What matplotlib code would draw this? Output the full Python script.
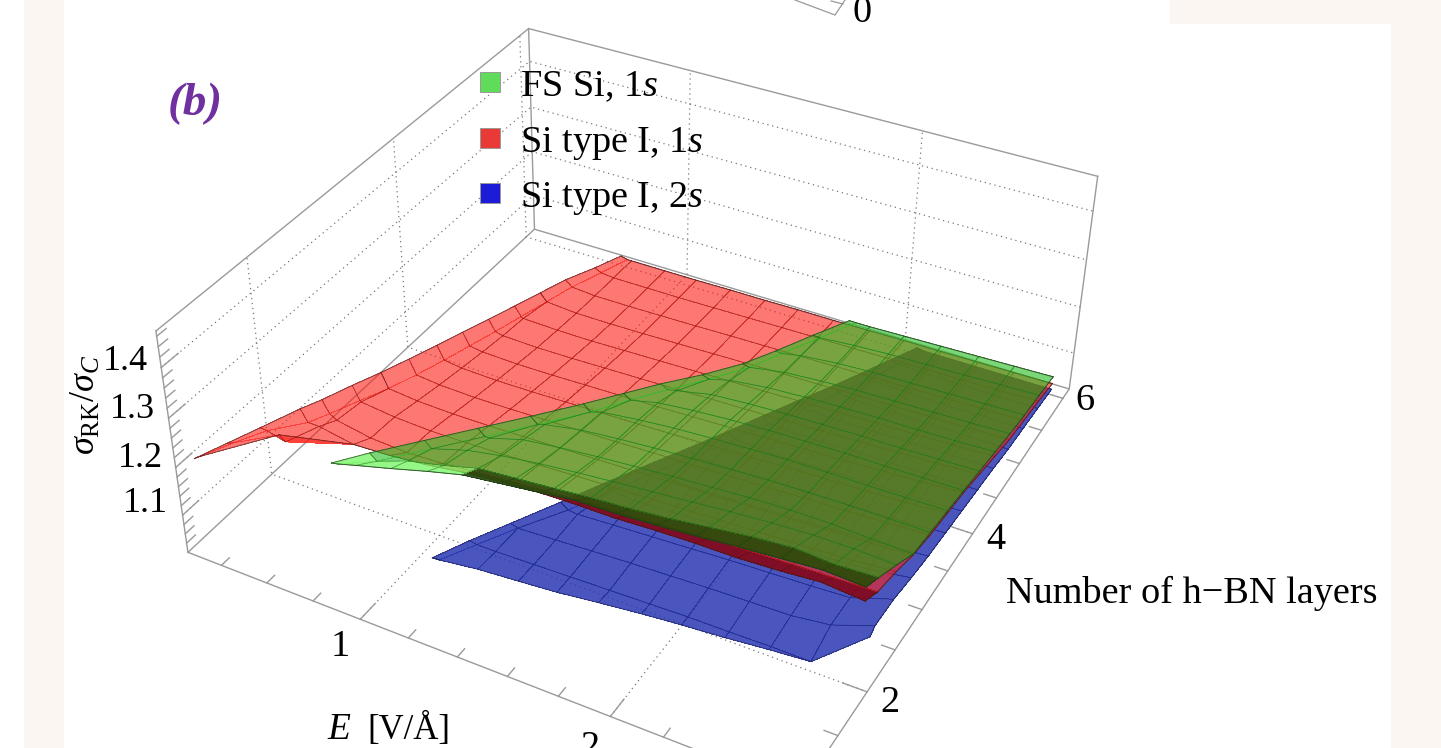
#Panel (b): sigma_RK/sigma_C surfaces against field and number of h-BN layers
import numpy as np
import matplotlib
matplotlib.use("Agg")
import matplotlib.pyplot as plt
from matplotlib.patches import Rectangle
from matplotlib.path import Path
from matplotlib.transforms import IdentityTransform
from mpl_toolkits.mplot3d.art3d import Poly3DCollection

plt.rcParams['font.family'] = ['Liberation Serif', 'DejaVu Serif']
plt.rcParams['mathtext.fontset'] = 'custom'
plt.rcParams['mathtext.rm'] = 'Liberation Serif'
plt.rcParams['mathtext.it'] = 'Liberation Serif:italic'
plt.rcParams['mathtext.bf'] = 'Liberation Serif:bold'

#Axis ranges and ticks
E_lim = [0.25, 2.7]
N_lim = [0.9, 6.15]
Z_lim = [1.02, 1.47]
E_minor = [0.4, 0.6, 0.8, 1.0, 1.2, 1.4, 1.6, 1.8, 2.0, 2.2, 2.4, 2.6]
E_major = [1, 2]
N_minor = [1, 1.5, 2, 2.5, 3, 3.5, 4, 4.5, 5, 5.5, 6]
N_major = [2, 4, 6]
Z_minor = [1.04, 1.06, 1.08, 1.1, 1.12, 1.14, 1.16, 1.18, 1.2, 1.22, 1.24, 1.26, 1.28, 1.3, 1.32, 1.34, 1.36, 1.38, 1.4, 1.42, 1.44, 1.46]
Z_major = [1.1, 1.2, 1.3, 1.4]

#Field values shared by the three tables
E_grid = [0.30, 0.46, 0.61, 0.77, 0.93, 1.08, 1.24, 1.40, 1.55, 1.71, 1.87, 2.02, 2.18, 2.34, 2.49, 2.65]

#Si type I, 1s
red_N = [1, 1.33, 1.67, 2.1, 2.33, 2.67, 3, 3.33, 3.67, 4, 4.33, 4.67, 5, 5.33, 5.67, 6]
red_start = [0.30, 0.324, 0.35, 0.38, 0.40, 0.425, 0.45, 0.475, 0.50, 0.52, 0.545, 0.57, 0.60, 0.63, 0.68, 0.72]
red_ridge = [1.212, 1.199, 1.186, 1.169, 1.159, 1.146, 1.132, 1.120, 1.108, 1.096, 1.085, 1.074, 1.066, 1.058, 1.050, 1.042]
red_front_N = [1.0, 1.6, 2.1, 2.1, 2.1, 2.1, 2.1, 2.1, 2.1, 2.1, 2.1, 2.1, 2.1, 2.1, 2.1, 2.1]
red_Z = [
    [1.222, 1.200, 1.132, 1.136, 1.144, 1.155, 1.163, 1.169, 1.171, 1.171, 1.175, 1.177, 1.177, 1.181, 1.187, 1.180],
    [1.205, 1.200, 1.132, 1.136, 1.144, 1.155, 1.163, 1.169, 1.171, 1.171, 1.175, 1.177, 1.177, 1.181, 1.187, 1.180],
    [1.185, 1.175, 1.132, 1.136, 1.144, 1.155, 1.163, 1.169, 1.171, 1.171, 1.175, 1.177, 1.177, 1.181, 1.187, 1.180],
    [1.145, 1.145, 1.132, 1.136, 1.144, 1.155, 1.163, 1.169, 1.171, 1.171, 1.175, 1.177, 1.177, 1.181, 1.187, 1.180],
    [1.134, 1.125, 1.112, 1.108, 1.112, 1.118, 1.125, 1.131, 1.138, 1.142, 1.146, 1.150, 1.153, 1.156, 1.158, 1.160],
    [1.118, 1.116, 1.108, 1.105, 1.106, 1.108, 1.112, 1.116, 1.119, 1.122, 1.125, 1.128, 1.131, 1.134, 1.138, 1.145],
    [1.102, 1.102, 1.096, 1.094, 1.095, 1.097, 1.099, 1.102, 1.104, 1.107, 1.109, 1.112, 1.115, 1.118, 1.121, 1.126],
    [1.090, 1.090, 1.085, 1.083, 1.084, 1.086, 1.088, 1.090, 1.093, 1.095, 1.098, 1.101, 1.104, 1.107, 1.110, 1.115],
    [1.080, 1.080, 1.075, 1.073, 1.074, 1.076, 1.078, 1.080, 1.083, 1.086, 1.089, 1.092, 1.095, 1.098, 1.101, 1.107],
    [1.070, 1.070, 1.066, 1.064, 1.065, 1.067, 1.069, 1.071, 1.074, 1.077, 1.080, 1.083, 1.086, 1.090, 1.094, 1.100],
    [1.062, 1.062, 1.058, 1.056, 1.057, 1.059, 1.061, 1.063, 1.066, 1.068, 1.071, 1.074, 1.077, 1.080, 1.084, 1.088],
    [1.055, 1.055, 1.052, 1.050, 1.050, 1.052, 1.054, 1.056, 1.058, 1.060, 1.063, 1.065, 1.068, 1.070, 1.073, 1.076],
    [1.050, 1.050, 1.050, 1.045, 1.045, 1.046, 1.048, 1.050, 1.052, 1.054, 1.055, 1.057, 1.059, 1.060, 1.062, 1.064],
    [1.046, 1.046, 1.046, 1.042, 1.042, 1.043, 1.044, 1.046, 1.047, 1.048, 1.050, 1.051, 1.052, 1.054, 1.056, 1.058],
    [1.043, 1.043, 1.043, 1.040, 1.040, 1.040, 1.041, 1.042, 1.043, 1.044, 1.045, 1.046, 1.047, 1.048, 1.050, 1.052],
    [1.038, 1.038, 1.038, 1.038, 1.038, 1.038, 1.039, 1.039, 1.040, 1.040, 1.041, 1.042, 1.042, 1.043, 1.044, 1.045],
]

#FS Si, 1s
green_N = [2.1, 2.33, 2.67, 3, 3.33, 3.67, 4, 4.33, 4.67, 5, 5.33, 5.67, 6]
green_start = [0.50, 0.60, 0.74, 0.88, 1.02, 1.16, 1.25, 1.33, 1.43, 1.53, 1.60, 1.69, 1.78]
green_ridge = [1.073, 1.078, 1.079, 1.081, 1.083, 1.085, 1.076, 1.064, 1.053, 1.048, 1.043, 1.047, 1.050]
green_front_N = [2.1] * 16
green_Z = [
    [1.076, 1.076, 1.087, 1.108, 1.130, 1.149, 1.159, 1.169, 1.179, 1.181, 1.186, 1.192, 1.200, 1.206, 1.212, 1.208],
    [1.065, 1.065, 1.065, 1.090, 1.108, 1.128, 1.135, 1.142, 1.149, 1.155, 1.163, 1.173, 1.183, 1.190, 1.185, 1.189],
    [1.066, 1.066, 1.066, 1.066, 1.090, 1.104, 1.115, 1.124, 1.131, 1.138, 1.145, 1.152, 1.158, 1.162, 1.162, 1.159],
    [1.068, 1.068, 1.068, 1.068, 1.068, 1.090, 1.100, 1.108, 1.114, 1.120, 1.125, 1.130, 1.133, 1.133, 1.130, 1.128],
    [1.070, 1.070, 1.070, 1.070, 1.070, 1.075, 1.090, 1.098, 1.104, 1.109, 1.113, 1.117, 1.119, 1.120, 1.120, 1.120],
    [1.072, 1.072, 1.072, 1.072, 1.072, 1.072, 1.080, 1.090, 1.097, 1.102, 1.106, 1.109, 1.110, 1.110, 1.111, 1.112],
    [1.066, 1.066, 1.066, 1.066, 1.066, 1.066, 1.066, 1.080, 1.088, 1.094, 1.098, 1.100, 1.102, 1.102, 1.103, 1.104],
    [1.056, 1.056, 1.056, 1.056, 1.056, 1.056, 1.056, 1.060, 1.076, 1.082, 1.086, 1.088, 1.090, 1.091, 1.093, 1.095],
    [1.048, 1.048, 1.048, 1.048, 1.048, 1.048, 1.048, 1.048, 1.060, 1.070, 1.075, 1.078, 1.080, 1.081, 1.083, 1.086],
    [1.045, 1.045, 1.045, 1.045, 1.045, 1.045, 1.045, 1.045, 1.045, 1.058, 1.064, 1.068, 1.070, 1.072, 1.074, 1.077],
    [1.042, 1.042, 1.042, 1.042, 1.042, 1.042, 1.042, 1.042, 1.042, 1.050, 1.058, 1.062, 1.064, 1.066, 1.068, 1.070],
    [1.046, 1.046, 1.046, 1.046, 1.046, 1.046, 1.046, 1.046, 1.046, 1.046, 1.052, 1.056, 1.058, 1.060, 1.063, 1.065],
    [1.050, 1.050, 1.050, 1.050, 1.050, 1.050, 1.050, 1.050, 1.050, 1.050, 1.050, 1.052, 1.054, 1.056, 1.058, 1.060],
]

#Si type I, 2s
blue_N = [1.7, 2, 2.33, 2.67, 3, 3.33, 3.67, 4, 4.33, 4.67, 5, 5.33, 5.67, 6]
blue_start = [1.06, 1.13, 1.21, 1.33, 1.43, 1.52, 1.61, 1.70, 1.77, 1.84, 1.92, 1.98, 2.03, 2.08]
blue_ridge = [1.031, 1.033, 1.033, 1.048, 1.057, 1.061, 1.063, 1.067, 1.065, 1.061, 1.061, 1.055, 1.045, 1.035]
blue_front_N = [1.7, 1.7, 1.7, 1.7, 1.7, 1.7, 1.74, 1.77, 1.8, 1.83, 1.87, 1.9, 1.93, 1.96, 2.0, 2.25]
blue_Z = [
    [1.032, 1.032, 1.032, 1.032, 1.032, 1.032, 1.034, 1.034, 1.034, 1.038, 1.039, 1.040, 1.040, 1.042, 1.040, 1.081],
    [1.030, 1.030, 1.030, 1.030, 1.030, 1.030, 1.030, 1.032, 1.034, 1.036, 1.038, 1.040, 1.040, 1.041, 1.040, 1.081],
    [1.028, 1.028, 1.028, 1.028, 1.028, 1.028, 1.028, 1.032, 1.036, 1.040, 1.043, 1.046, 1.048, 1.050, 1.060, 1.090],
    [1.036, 1.036, 1.036, 1.036, 1.036, 1.036, 1.036, 1.034, 1.038, 1.042, 1.046, 1.050, 1.053, 1.056, 1.060, 1.088],
    [1.045, 1.045, 1.045, 1.045, 1.045, 1.045, 1.045, 1.045, 1.040, 1.044, 1.048, 1.052, 1.055, 1.060, 1.066, 1.078],
    [1.050, 1.050, 1.050, 1.050, 1.050, 1.050, 1.050, 1.050, 1.050, 1.046, 1.050, 1.053, 1.056, 1.060, 1.064, 1.070],
    [1.052, 1.052, 1.052, 1.052, 1.052, 1.052, 1.052, 1.052, 1.052, 1.050, 1.050, 1.053, 1.055, 1.058, 1.060, 1.065],
    [1.055, 1.055, 1.055, 1.055, 1.055, 1.055, 1.055, 1.055, 1.055, 1.055, 1.050, 1.052, 1.054, 1.056, 1.058, 1.060],
    [1.053, 1.053, 1.053, 1.053, 1.053, 1.053, 1.053, 1.053, 1.053, 1.053, 1.050, 1.050, 1.052, 1.053, 1.054, 1.055],
    [1.050, 1.050, 1.050, 1.050, 1.050, 1.050, 1.050, 1.050, 1.050, 1.050, 1.050, 1.047, 1.048, 1.049, 1.050, 1.050],
    [1.050, 1.050, 1.050, 1.050, 1.050, 1.050, 1.050, 1.050, 1.050, 1.050, 1.050, 1.045, 1.045, 1.044, 1.044, 1.043],
    [1.046, 1.046, 1.046, 1.046, 1.046, 1.046, 1.046, 1.046, 1.046, 1.046, 1.046, 1.044, 1.041, 1.040, 1.040, 1.040],
    [1.040, 1.040, 1.040, 1.040, 1.040, 1.040, 1.040, 1.040, 1.040, 1.040, 1.040, 1.040, 1.038, 1.037, 1.036, 1.036],
    [1.032, 1.032, 1.032, 1.032, 1.032, 1.032, 1.032, 1.032, 1.032, 1.032, 1.032, 1.032, 1.032, 1.032, 1.032, 1.032],
]

legend_labels = ["FS Si, 1$s$", "Si type I, 1$s$", "Si type I, 2$s$"]
legend_colors = ["#5fdc5a", "#ea3a38", "#1c1cd8"]

W, H = 1441, 748
fig = plt.figure(figsize=(W / 100, H / 100), dpi=100, facecolor="white")

#Page background behind the plot
bg = fig.add_axes([0, 0, 1, 1], zorder=-1)
bg.set_xlim(0, W)
bg.set_ylim(H, 0)
bg.axis("off")
bg.add_patch(Rectangle((24, 0), W - 24, H, color="#fbf6f2", lw=0))
bg.add_patch(Rectangle((64, 24), 1327, H - 24, color="white", lw=0))
bg.add_patch(Rectangle((64, 0), 1106, 24, color="white", lw=0))
#bit of the panel above that shows at the top edge
bg.plot([795, 835, 845], [0, 15, 0], color="#999999", lw=0.9)
bg.plot([831, 843], [1, 4], color="#999999", lw=0.9)

ax = fig.add_axes([0, 0, 1, 1], projection="3d", computed_zorder=False, zorder=1)
ax.set_facecolor("none")
ax.set_axis_off()
ax.set_proj_type("ortho")
ax.set_xlim(E_lim)
ax.set_ylim(N_lim)
ax.set_zlim(Z_lim)
ax.set_autoscale_on(False)
ax.apply_aspect = lambda position=None: None

#Camera: solved from where the corners of the box sit in the picture
corners_data = [(E_lim[0], N_lim[0], Z_lim[0]), (E_lim[1], N_lim[0], Z_lim[0]),
                (E_lim[1], N_lim[1], Z_lim[0]), (E_lim[0], N_lim[1], Z_lim[0]),
                (E_lim[0], N_lim[0], Z_lim[1]), (E_lim[0], N_lim[1], Z_lim[1]),
                (E_lim[1], N_lim[1], Z_lim[1])]
corners_px = [(189, 552), (801, 791), (1070, 388), (533, 230), (155, 331), (530, 28), (1097, 177)]
rows = []
for (x, y, z), (px, py) in zip(corners_data, corners_px):
    py = H - py
    rows.append([x, y, z, 1, 0, 0, 0, 0, -px * x, -px * y, -px * z, -px])
    rows.append([0, 0, 0, 0, x, y, z, 1, -py * x, -py * y, -py * z, -py])
P = np.linalg.svd(np.array(rows, dtype=float))[2][-1].reshape(3, 4)
if P[2] @ np.array([1.0, 3.0, 1.2, 1.0]) < 0:
    P = -P


def camera():
    inv = ax.transData.inverted()
    (u0, v0), (u1, v1) = inv.transform([(0, 0), (W, H)])
    a, c = (u1 - u0) / W, (v1 - v0) / H
    return np.array([a * P[0] + u0 * P[2], c * P[1] + v0 * P[2], [0.1, 0.1, 1, 0], P[2]])


ax.get_proj = camera

grid_kw = dict(color="#777777", lw=0.9, ls=(0, (1, 3)), zorder=1)
box_kw = dict(color="#9a9a9a", lw=1.0, zorder=1)
E0, E1 = E_lim
N0, N1 = N_lim
Z0, Z1 = Z_lim

#Box edges that Mathematica keeps
ax.plot([E0, E1, E1, E0, E0], [N0, N0, N1, N1, N0], [Z0] * 5, **box_kw)
ax.plot([E0, E0], [N0, N0], [Z0, Z1], **box_kw)
ax.plot([E0, E0], [N1, N1], [Z0, Z1], **box_kw)
ax.plot([E1, E1], [N1, N1], [Z0, Z1], **box_kw)
ax.plot([E0, E0, E1], [N0, N1, N1], [Z1, Z1, Z1], **box_kw)

#Dotted grid on the floor and the two back walls
for e in E_major:
    ax.plot([e, e, e], [N0, N1, N1], [Z0, Z0, Z1], **grid_kw)
for n in N_major:
    ax.plot([E1, E0, E0], [n, n, n], [Z0, Z0, Z1], **grid_kw)
for z in Z_major:
    ax.plot([E0, E0, E1], [N0, N1, N1], [z, z, z], **grid_kw)

#Ticks
for e in E_minor:
    ax.plot([e, e], [N0, N0 + (0.2 if e in E_major else 0.1)], [Z0, Z0], **box_kw)
for n in N_minor:
    ax.plot([E1, E1 - (0.09 if n in N_major else 0.05)], [n, n], [Z0, Z0], **box_kw)
for z in Z_minor:
    ax.plot([E0, E0], [N0, N0 + (0.2 if z in Z_major else 0.11)], [z, z], **box_kw)


def draw_surface(N_rows, start, ridge, front_N, table, color, alpha, line_color, z, dark_row=None, dark=None, light=None):
    #nodes: the grid, held back at the ridge and the front edge of the data
    nr, nc = len(N_rows), len(E_grid)
    crease = 0.03
    Ex = np.array([[max(E_grid[j], start[i] + crease) for j in range(nc)] for i in range(nr)])
    Ny = np.array([[max(N_rows[i], front_N[j]) for j in range(nc)] for i in range(nr)])
    Zz = np.array(table)
    verts, faces = [], []
    base = (*color, alpha)
    for i in range(nr - 1):
        verts.append([(start[i], N_rows[i], ridge[i]), (Ex[i, 0], Ny[i, 0], Zz[i, 0]),
                      (Ex[i + 1, 0], Ny[i + 1, 0], Zz[i + 1, 0]), (start[i + 1], N_rows[i + 1], ridge[i + 1])])
        faces.append(light if (light and i == 0) else base)
        for j in range(nc - 1):
            verts.append([(Ex[i, j], Ny[i, j], Zz[i, j]), (Ex[i, j + 1], Ny[i, j + 1], Zz[i, j + 1]),
                          (Ex[i + 1, j + 1], Ny[i + 1, j + 1], Zz[i + 1, j + 1]), (Ex[i + 1, j], Ny[i + 1, j], Zz[i + 1, j])])
            if dark and i == dark_row and j >= 5:
                faces.append(dark)
            elif light and i == 0 and j < 5:
                faces.append(light)
            else:
                faces.append(base)
    poly = Poly3DCollection(verts, facecolors=faces, edgecolors="none", linewidths=0, antialiased=False)
    poly.set_zorder(z)
    ax.add_collection3d(poly, autolim=False)

    mesh_kw = dict(color=line_color, lw=0.6, alpha=0.42, zorder=z + 0.5)
    edge_kw = dict(color=line_color, lw=0.7, alpha=0.7, zorder=z + 0.5)
    #lines along the field
    for i in range(nr):
        keep = [j for j in range(nc) if N_rows[i] >= front_N[j]]
        ax.plot([start[i]] + list(Ex[i, keep]), [N_rows[i]] + list(Ny[i, keep]), [ridge[i]] + list(Zz[i, keep]), **mesh_kw)
    #lines across the layers, stopping on the ridge
    for j in range(nc):
        xs, ys, zs = [], [], []
        for i in range(nr):
            xs.append(Ex[i, j])
            ys.append(Ny[i, j])
            zs.append(Zz[i, j])
            if E_grid[j] < start[i] + crease:
                xs.append(start[i])
                ys.append(N_rows[i])
                zs.append(ridge[i])
                break
        ax.plot(xs, ys, zs, **mesh_kw)
    #outline
    ax.plot(start, N_rows, ridge, **edge_kw)
    ax.plot(Ex[0], Ny[0], Zz[0], **edge_kw)
    ax.plot(Ex[:, -1], Ny[:, -1], Zz[:, -1], **edge_kw)
    ax.plot([start[-1]] + list(Ex[-1]), [N_rows[-1]] * (nc + 1), [ridge[-1]] + list(Zz[-1]), **edge_kw)
    #edge of the surface going all the way round
    return list(zip(Ex[0], Ny[0], Zz[0])) + list(zip(Ex[:, -1], Ny[:, -1], Zz[:, -1])) \
        + list(zip(Ex[-1][::-1], Ny[-1][::-1], Zz[-1][::-1])) + list(zip(start[::-1], N_rows[::-1], ridge[::-1]))


blue_loop = draw_surface(blue_N, blue_start, blue_ridge, blue_front_N, blue_Z, (42 / 255, 55 / 255, 178 / 255), 0.85, "#1c2360", 2)
draw_surface(red_N, red_start, red_ridge, red_front_N, red_Z, (253 / 255, 30 / 255, 22 / 255), 0.6, "#4a1a1a", 4,
             dark_row=3, dark=(0.52, 0.03, 0.10, 0.92))
green_loop = draw_surface(green_N, green_start, green_ridge, green_front_N, green_Z, (40 / 255, 190 / 255, 35 / 255), 0.62, "#1f3a1a", 6,
                          dark_row=0, dark=(0.16, 0.30, 0.05, 0.92), light=(0.45, 0.96, 0.38, 0.75))

#Where green lies over blue it is darker than plain alpha mixing gives
pts = P @ np.column_stack([np.array(green_loop), np.ones(len(green_loop))]).T
green_outline = Path((pts[:2] / pts[2]).T)
shade = Poly3DCollection([blue_loop], facecolors=(62 / 255, 70 / 255, 0, 0.22), edgecolors="none", linewidths=0)
shade.set_zorder(6.2)
ax.add_collection3d(shade, autolim=False)
shade.set_clip_path(green_outline, IdentityTransform())

#Text and legend over everything
top = fig.add_axes([0, 0, 1, 1], zorder=5)
top.set_xlim(0, W)
top.set_ylim(H, 0)
top.axis("off")

FS = 27.5
top.text(168, 104, "(b)", color="#7030a0", fontsize=34, fontweight="bold", fontstyle="italic", va="center", ha="left")
for y, label, col in zip([82, 138, 193], legend_labels, legend_colors):
    top.add_patch(Rectangle((480, y - 10), 20, 20, facecolor=col, edgecolor="#999999", lw=0.7))
    top.text(520, y + 5, label, fontsize=FS, va="center", ha="left", color="black")

for x, y, label in zip([148, 155, 163, 168], [361, 409, 458, 503], ["1.4", "1.3", "1.2", "1.1"]):
    top.text(x, y, label, fontsize=26, va="center", ha="right")
top.text(340, 647, "1", fontsize=FS, va="center", ha="center")
top.text(590, 748, "2", fontsize=FS, va="center", ha="center", clip_on=True)
top.text(1085, 401, "6", fontsize=FS, va="center", ha="center")
top.text(996, 540, "4", fontsize=FS, va="center", ha="center")
top.text(890, 703, "2", fontsize=FS, va="center", ha="center")
top.text(862, 13, "0", fontsize=FS, va="center", ha="center", clip_on=True)
top.text(1006, 593, "Number of h\u2212BN layers", fontsize=FS, va="center", ha="left")
top.text(327, 730, "$\\mathbf{\\mathit{E}}$", fontsize=27, va="center", ha="left")
top.text(367, 730, "[V/\u00c5]", fontsize=25, va="center", ha="left")
top.text(86, 405, r"$\sigma_{\mathrm{RK}}/\sigma_{\mathit{C}}$", fontsize=26, rotation=90, va="center", ha="center")

fig.savefig("out.png", dpi=100)
